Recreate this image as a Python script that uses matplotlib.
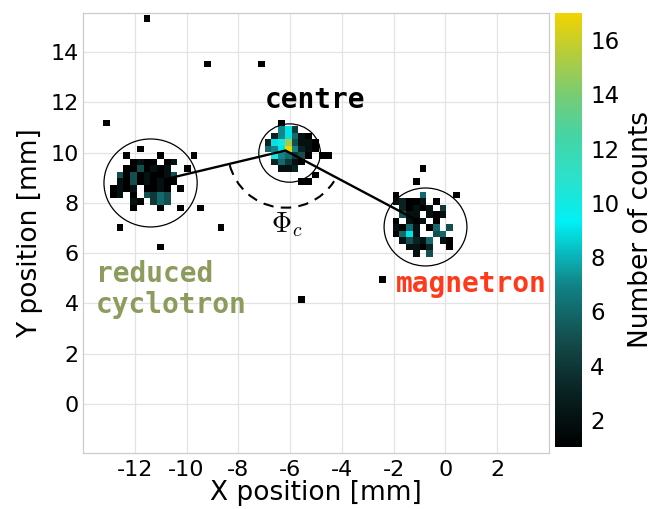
import numpy as np
import matplotlib
matplotlib.use("Agg")
import matplotlib.pyplot as plt
from matplotlib.colors import LinearSegmentedColormap
from matplotlib.patches import Ellipse, Arc

# ---------------- data ----------------
BIN = 0.26                      # histogram bin size [mm]
X_MIN, X_MAX = -14.0, 4.0
Y_MIN, Y_MAX = -1.95, 15.55

# count patterns ('.' = 0, base-36 digit = counts), rows top -> bottom
cyclotron_counts = [
    "....1.........",
    "..1....1....1.",
    "...1211.12....",
    "..1151212..1..",
    ".515121125....",
    ".215121211....",
    "1212.1121.1...",
    "12.1.5465.....",
    "...21.465.....",
    "...1...1..1..1",
]
cyclotron_topleft = (-12.93, 10.15)

centre_counts = [
    "..1......",
    "..794....",
    ".379621..",
    "39AF5221.",
    "679H7321.",
    ".A76451.1",
    ".36421...",
    "..223....",
    ".......1.",
    ".....11..",
]
centre_topleft = (-6.76, 11.27)

magnetron_counts = [
    "1...6....1",
    "23112.1...",
    ".31212.4..",
    ".522.212..",
    "1.212.1...",
    "2162.16.5.",
    "1692..56..",
    ".25326.21.",
    "..2213..1.",
    "...2.5....",
]
magnetron_topleft = (-1.80, 8.29)

stray_x = [-11.62, -9.11, -7.10, -13.10, -4.60, -0.86, -1.12, -12.60, -8.62, -11.13, -5.66, -2.38]
stray_y = [15.40, 13.61, 13.61, 11.11, 9.88, 9.39, 8.86, 7.14, 7.14, 6.19, 4.15, 4.89]

circle_cx = [-11.39, -6.02, -0.77]
circle_cy = [8.79, 9.98, 7.04]
circle_w = [3.60, 2.38, 3.20]
circle_h = [3.50, 2.32, 3.10]

path_x = [-10.74, -6.18, -1.22]
path_y = [8.96, 10.08, 7.37]

cbar_ticks = [2, 4, 6, 8, 10, 12, 14, 16]
x_ticks = [-12, -10, -8, -6, -4, -2, 0, 2]
y_ticks = [0, 2, 4, 6, 8, 10, 12, 14]

# ---------------- histogram ----------------
nx = int(np.ceil((X_MAX - X_MIN) / BIN))
ny = int(np.ceil((Y_MAX - Y_MIN) / BIN))
x_edges = X_MIN + BIN * np.arange(nx + 1)
y_edges = Y_MIN + BIN * np.arange(ny + 1)
H = np.zeros((ny, nx))


def add_pattern(rows, topleft):
    i0 = int(np.floor((topleft[0] - X_MIN) / BIN))
    j0 = int(np.floor((topleft[1] - Y_MIN) / BIN))
    for r, row in enumerate(rows):
        for k, ch in enumerate(row):
            if ch != '.':
                H[j0 - r, i0 + k] += int(ch, 36)


add_pattern(cyclotron_counts, cyclotron_topleft)
add_pattern(centre_counts, centre_topleft)
add_pattern(magnetron_counts, magnetron_topleft)
for sx, sy in zip(stray_x, stray_y):
    H[int(np.floor((sy - Y_MIN) / BIN)), int(np.floor((sx - X_MIN) / BIN))] += 1

Hm = np.ma.masked_where(H <= 0, H)

cmap = LinearSegmentedColormap.from_list("counts", [
    (0.0, "#000000"),
    (2 / 16, "#0a2222"),
    (4 / 16, "#144e4e"),
    (6 / 16, "#118488"),
    (8.3 / 16, "#00f0f5"),
    (10 / 16, "#2de0c8"),
    (11.5 / 16, "#45d4a4"),
    (13 / 16, "#78cc74"),
    (14.5 / 16, "#b4cc3c"),
    (1.0, "#f2d300"),
])

# ---------------- figure ----------------
plt.rcParams['font.family'] = ['DejaVu Sans']
plt.rcParams['mathtext.fontset'] = 'cm'
plt.rcParams['axes.unicode_minus'] = False

fig = plt.figure(figsize=(6.56, 5.09), dpi=100)
ax = fig.add_axes([83 / 656, 56 / 509, 466 / 656, 440 / 509])
cax = fig.add_axes([555 / 656, 62 / 509, 27 / 656, 434 / 509])

ax.set_axisbelow(True)
ax.grid(True, color="#e3e3e3", lw=0.9)
mesh = ax.pcolormesh(x_edges, y_edges, Hm, cmap=cmap, vmin=1, vmax=17, zorder=2)

for cx, cy, w, h in zip(circle_cx, circle_cy, circle_w, circle_h):
    ax.add_patch(Ellipse((cx, cy), w, h, fill=False, ec="black", lw=0.9, zorder=3))

ax.plot(path_x, path_y, color="black", lw=1.7, zorder=4)
ax.add_patch(Arc((path_x[1], path_y[1]), 4.45, 4.55, theta1=195, theta2=327,
                 ec="black", lw=1.5, ls=(0, (5, 3.5)), zorder=4))

ax.text(-6.72, 6.84, r"$\Phi_c$", fontsize=20, ha="left", va="baseline", zorder=5)
mono = dict(family="DejaVu Sans Mono", weight="bold", fontsize=20, va="baseline", zorder=5)
ax.text(-5.02, 11.79, "centre", ha="center", color="black", **mono)
ax.text(-13.51, 4.85, "reduced", ha="left", color="#8c9c5c", **mono)
ax.text(-13.51, 3.61, "cyclotron", ha="left", color="#8c9c5c", **mono)
ax.text(-1.93, 4.46, "magnetron", ha="left", color="#ff3a1a", **mono)

ax.set_xlim(X_MIN, X_MAX)
ax.set_ylim(Y_MIN, Y_MAX)
ax.set_xticks(x_ticks)
ax.set_yticks(y_ticks)
ax.tick_params(axis="x", length=0, labelsize=16, pad=5)
ax.tick_params(axis="y", length=0, labelsize=16, pad=3)
for s in ax.spines.values():
    s.set_color("#cccccc")
    s.set_linewidth(0.9)
ax.set_xlabel("X position [mm]", fontsize=19, labelpad=0)
ax.set_ylabel("Y position [mm]", fontsize=19, labelpad=5)

cb = fig.colorbar(mesh, cax=cax)
cb.set_ticks(cbar_ticks)
cb.outline.set_visible(False)
cax.tick_params(length=0, labelsize=16.5, pad=6)
cb.set_label("Number of counts", fontsize=19, labelpad=6)

fig.savefig("out.png", dpi=100)
